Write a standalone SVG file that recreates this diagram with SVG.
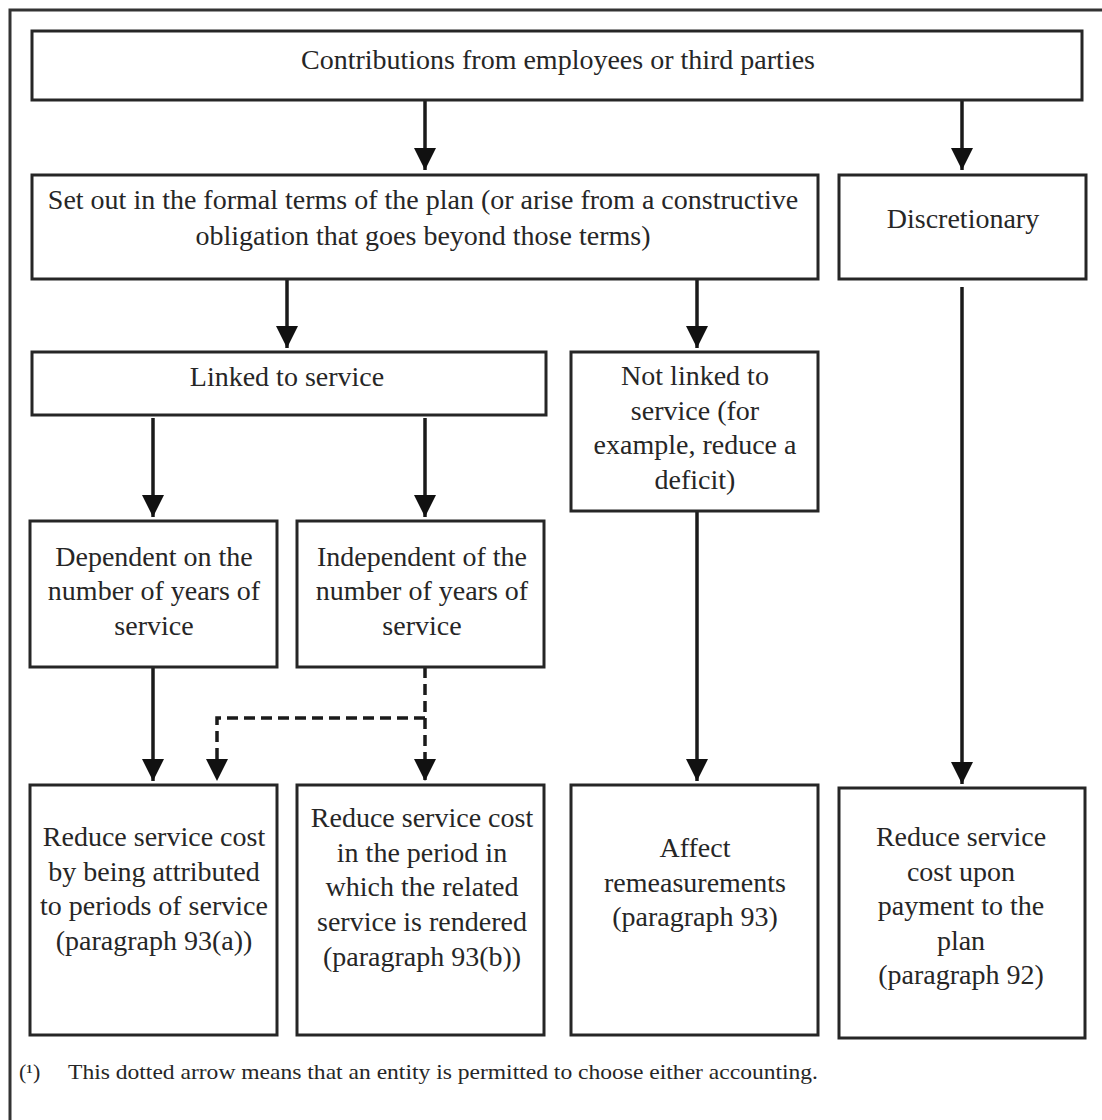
<svg xmlns="http://www.w3.org/2000/svg" width="1102" height="1120" viewBox="0 0 1102 1120">
<style>
.box{fill:#fff;stroke:#262626;stroke-width:3}
.t{font-family:"Liberation Serif","Times New Roman",serif;font-size:28px;fill:#262626;text-anchor:middle}
.fn{font-family:"Liberation Serif","Times New Roman",serif;font-size:22px;fill:#262626}
.c{stroke:#1a1a1a;stroke-width:3.5;fill:none}
.d{stroke-dasharray:11 6}
</style>
<defs>
<marker id="ah" markerUnits="userSpaceOnUse" markerWidth="24" markerHeight="24" refX="22" refY="11" orient="auto">
<path d="M0,0 L22,11 L0,22 z" fill="#111"/>
</marker>
</defs>
<rect x="0" y="0" width="1102" height="1120" fill="#fff"/>
<rect x="10" y="10" width="1200" height="1200" fill="none" stroke="#333" stroke-width="3"/>

<g id="connectors">
<line class="c" x1="425" y1="100" x2="425" y2="170" marker-end="url(#ah)"/>
<line class="c" x1="962" y1="100" x2="962" y2="170" marker-end="url(#ah)"/>
<line class="c" x1="287" y1="279" x2="287" y2="348" marker-end="url(#ah)"/>
<line class="c" x1="697" y1="279" x2="697" y2="348" marker-end="url(#ah)"/>
<line class="c" x1="153" y1="418" x2="153" y2="517" marker-end="url(#ah)"/>
<line class="c" x1="425" y1="418" x2="425" y2="517" marker-end="url(#ah)"/>
<line class="c" x1="153" y1="667" x2="153" y2="781" marker-end="url(#ah)"/>
<path class="c d" d="M425,667 V718 H217 V781" marker-end="url(#ah)"/>
<path class="c d" d="M425,718 V781" marker-end="url(#ah)"/>
<line class="c" x1="697" y1="511" x2="697" y2="781" marker-end="url(#ah)"/>
<line class="c" x1="962" y1="287" x2="962" y2="784" marker-end="url(#ah)"/>
</g>

<g id="n-contrib">
<rect class="box" x="32" y="31" width="1050" height="69"/>
<text class="t" x="558" y="69">Contributions from employees or third parties</text>
</g>
<g id="n-setout">
<rect class="box" x="32" y="175" width="786" height="104"/>
<text class="t" x="423" y="209">Set out in the formal terms of the plan (or arise from a constructive</text>
<text class="t" x="423" y="245">obligation that goes beyond those terms)</text>
</g>
<g id="n-disc">
<rect class="box" x="839" y="175" width="247" height="104"/>
<text class="t" x="963" y="228">Discretionary</text>
</g>
<g id="n-linked">
<rect class="box" x="32" y="352" width="514" height="63"/>
<text class="t" x="287" y="386">Linked to service</text>
</g>
<g id="n-notlinked">
<rect class="box" x="571" y="352" width="247" height="159"/>
<text class="t" x="695" y="385">Not linked to</text>
<text class="t" x="695" y="420">service (for</text>
<text class="t" x="695" y="454">example, reduce a</text>
<text class="t" x="695" y="489">deficit)</text>
</g>
<g id="n-dependent">
<rect class="box" x="30" y="521" width="247" height="146"/>
<text class="t" x="154" y="566">Dependent on the</text>
<text class="t" x="154" y="600">number of years of</text>
<text class="t" x="154" y="635">service</text>
</g>
<g id="n-independent">
<rect class="box" x="297" y="521" width="247" height="146"/>
<text class="t" x="422" y="566">Independent of the</text>
<text class="t" x="422" y="600">number of years of</text>
<text class="t" x="422" y="635">service</text>
</g>
<g id="n-reduce-a">
<rect class="box" x="30" y="785" width="247" height="250"/>
<text class="t" x="154" y="846">Reduce service cost</text>
<text class="t" x="154" y="881">by being attributed</text>
<text class="t" x="154" y="915">to periods of service</text>
<text class="t" x="154" y="950">(paragraph 93(a))</text>
</g>
<g id="n-reduce-b">
<rect class="box" x="297" y="785" width="247" height="250"/>
<text class="t" x="422" y="827">Reduce service cost</text>
<text class="t" x="422" y="862">in the period in</text>
<text class="t" x="422" y="896">which the related</text>
<text class="t" x="422" y="931">service is rendered</text>
<text class="t" x="422" y="966">(paragraph 93(b))</text>
</g>
<g id="n-affect">
<rect class="box" x="571" y="785" width="247" height="250"/>
<text class="t" x="695" y="857">Affect</text>
<text class="t" x="695" y="892">remeasurements</text>
<text class="t" x="695" y="926">(paragraph 93)</text>
</g>
<g id="n-reduce-92">
<rect class="box" x="839" y="788" width="246" height="250"/>
<text class="t" x="961" y="846">Reduce service</text>
<text class="t" x="961" y="881">cost upon</text>
<text class="t" x="961" y="915">payment to the</text>
<text class="t" x="961" y="950">plan</text>
<text class="t" x="961" y="984">(paragraph 92)</text>
</g>
<g id="footnote">
<text class="fn" x="19" y="1079">(¹)</text>
<text class="fn" x="68" y="1079" textLength="750" lengthAdjust="spacingAndGlyphs">This dotted arrow means that an entity is permitted to choose either accounting.</text>
</g>
</svg>
